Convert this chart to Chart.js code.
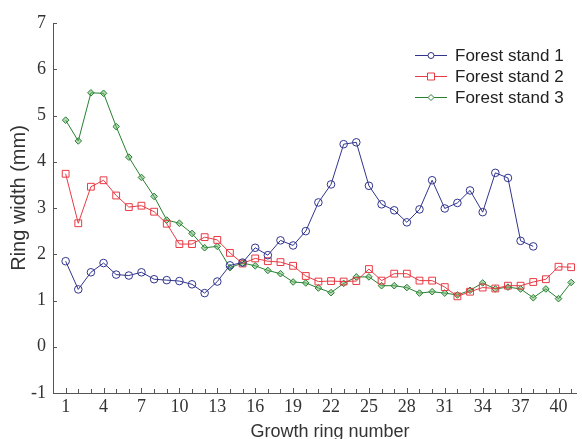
<!DOCTYPE html>
<html>
<head>
<meta charset="utf-8">
<script src="https://cdn.jsdelivr.net/npm/chart.js@4.4.1/dist/chart.umd.min.js"></script>
<style>
  html, body { margin: 0; padding: 0; background: #fff; overflow: hidden; }
  #wrap { width: 582px; height: 439px; }
</style>
</head>
<body>
<div id="wrap"><canvas id="ringChart"></canvas></div>
<script>
// Ring widths (mm) per growth ring
const ringNumbers = Array.from({ length: 41 }, (_, i) => i + 1);
const stand1 = [1.85, 1.24, 1.61, 1.81, 1.56, 1.54, 1.61, 1.46, 1.44, 1.42,
  1.35, 1.16, 1.41, 1.76, 1.82, 2.14, 1.98, 2.30, 2.19, 2.50,
  3.12, 3.51, 4.38, 4.42, 3.48, 3.08, 2.95, 2.69, 2.97, 3.60,
  2.99, 3.11, 3.38, 2.91, 3.76, 3.65, 2.29, 2.17];
const stand2 = [3.74, 2.67, 3.46, 3.60, 3.27, 3.02, 3.05, 2.92, 2.66, 2.22,
  2.22, 2.37, 2.31, 2.03, 1.80, 1.91, 1.85, 1.83, 1.75, 1.53,
  1.41, 1.42, 1.41, 1.42, 1.68, 1.43, 1.58, 1.58, 1.43, 1.43,
  1.29, 1.09, 1.19, 1.28, 1.26, 1.32, 1.32, 1.40, 1.46, 1.73, 1.72];
const stand3 = [4.90, 4.45, 5.49, 5.48, 4.76, 4.10, 3.66, 3.25, 2.74, 2.67,
  2.45, 2.14, 2.17, 1.71, 1.81, 1.75, 1.65, 1.58, 1.40, 1.38,
  1.27, 1.17, 1.37, 1.51, 1.51, 1.32, 1.32, 1.28, 1.16, 1.19,
  1.16, 1.12, 1.22, 1.38, 1.25, 1.29, 1.25, 1.06, 1.25, 1.04, 1.39];
const standNames = ["Forest stand 1", "Forest stand 2", "Forest stand 3"];
const xTickLabels = [1, 4, 7, 10, 13, 16, 19, 22, 25, 28, 31, 34, 37, 40];
const xTitle = "Growth ring number";
const yTitle = "Ring width (mm)";

const colors = ["rgb(48, 52, 140)", "rgb(232, 58, 68)", "rgb(38, 128, 48)"];
const axisColor = "#555";
const sansFamily = "'Liberation Sans', Arial, sans-serif";

function toPoints(values) {
  return values.map((v, i) => ({ x: ringNumbers[i], y: v }));
}

function makeSet(i, values, style, radius, fill) {
  return {
    label: standNames[i],
    data: toPoints(values),
    borderColor: colors[i],
    backgroundColor: fill,
    borderWidth: 1,
    pointStyle: style,
    pointRadius: radius,
    pointBorderWidth: 1,
    pointBorderColor: colors[i],
    pointBackgroundColor: fill,
    tension: 0,
  };
}

// inward tick marks on both axes
const innerTicks = {
  id: "innerTicks",
  afterDraw(chart) {
    const ctx = chart.ctx, xs = chart.scales.x, ys = chart.scales.y;
    ctx.save();
    ctx.strokeStyle = axisColor;
    ctx.lineWidth = 1;
    ctx.beginPath();
    xs.ticks.forEach((t) => {
      if (t.value < 1) return;
      const px = Math.round(xs.getPixelForValue(t.value)) + 0.5;
      const len = xTickLabels.includes(t.value) ? 5 : 4;
      ctx.moveTo(px, ys.bottom);
      ctx.lineTo(px, ys.bottom - len);
    });
    ys.ticks.forEach((t) => {
      const py = Math.round(ys.getPixelForValue(t.value)) + 0.5;
      ctx.moveTo(xs.left, py);
      ctx.lineTo(xs.left + 4, py);
    });
    ctx.stroke();
    ctx.restore();
  },
};

// axis titles, placed like the original (its x axis runs past the crop)
const axisTitles = {
  id: "axisTitles",
  afterDraw(chart) {
    const ctx = chart.ctx;
    ctx.save();
    ctx.fillStyle = "#333";
    ctx.textAlign = "center";
    ctx.textBaseline = "middle";
    ctx.font = "18px " + sansFamily;
    ctx.fillText(xTitle, 330, 432);
    ctx.translate(19, 198);
    ctx.rotate(-Math.PI / 2);
    ctx.font = "20px " + sansFamily;
    ctx.fillText(yTitle, 0, 0);
    ctx.restore();
  },
};

// legend with a line sample and marker, like the original
const lineLegend = {
  id: "lineLegend",
  afterDraw(chart) {
    const ctx = chart.ctx;
    const x0 = 415, x1 = 447, rows = [55, 76, 97];
    ctx.save();
    chart.data.datasets.forEach((ds, i) => {
      const y = rows[i];
      ctx.strokeStyle = ds.borderColor;
      ctx.lineWidth = 1;
      ctx.beginPath();
      ctx.moveTo(x0, y + 0.5);
      ctx.lineTo(x1, y + 0.5);
      ctx.stroke();
      const cx = (x0 + x1) / 2;
      ctx.fillStyle = "#fff";
      ctx.beginPath();
      if (ds.pointStyle === "circle") {
        ctx.arc(cx, y + 0.5, 3, 0, Math.PI * 2);
      } else if (ds.pointStyle === "rect") {
        ctx.rect(cx - 3.5, y - 3, 7, 7);
      } else {
        ctx.moveTo(cx, y - 2.5);
        ctx.lineTo(cx + 3, y + 0.5);
        ctx.lineTo(cx, y + 3.5);
        ctx.lineTo(cx - 3, y + 0.5);
        ctx.closePath();
      }
      ctx.fill();
      ctx.stroke();
      ctx.fillStyle = "#222";
      ctx.font = "17px " + sansFamily;
      ctx.textBaseline = "middle";
      ctx.textAlign = "left";
      ctx.fillText(ds.label, 455, y + 1);
    });
    ctx.restore();
  },
};

const tickFont = { family: "'Liberation Serif', 'Times New Roman', serif", size: 18 };

const ringConfig = {
  type: "line",
  data: {
    datasets: [
      makeSet(0, stand1, "circle", 3.8, "rgba(255,255,255,0)"),
      makeSet(1, stand2, "rect", 4.8, "rgba(255,255,255,0)"),
      makeSet(2, stand3, "rectRot", 3.3, "rgba(110,180,110,0.5)"),
    ],
  },
  options: {
    responsive: true,
    maintainAspectRatio: false,
    animation: false,
    layout: { padding: { left: 0, right: 0, top: 23, bottom: 0 } },
    plugins: { legend: { display: false }, tooltip: { enabled: false } },
    scales: {
      x: {
        type: "linear",
        min: 0,
        max: 41.4,
        grid: { display: false, drawTicks: false },
        border: { display: true, color: axisColor, width: 1 },
        ticks: {
          stepSize: 1,
          includeBounds: false,
          autoSkip: false,
          maxRotation: 0,
          padding: 3,
          color: "#333",
          font: tickFont,
          callback: (v) => (xTickLabels.includes(v) ? String(v) : ""),
        },
        afterFit: (scale) => { scale.height = 46; },
      },
      y: {
        min: -1,
        max: 7,
        grid: { display: false, drawTicks: false },
        border: { display: true, color: axisColor, width: 1 },
        ticks: { stepSize: 1, padding: 7, color: "#333", font: tickFont },
        afterFit: (scale) => { scale.width = 53; },
      },
    },
  },
  plugins: [innerTicks, axisTitles, lineLegend],
};

const ringChart = new Chart(document.getElementById("ringChart"), ringConfig);
</script>
</body>
</html>
